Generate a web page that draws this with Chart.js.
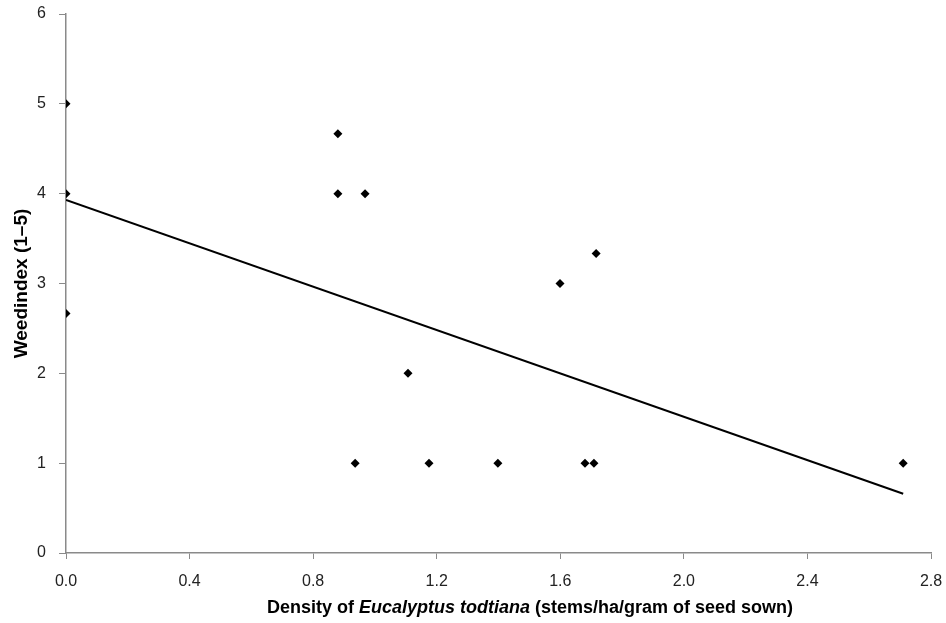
<!DOCTYPE html>
<html>
<head>
<meta charset="utf-8">
<script src="https://cdn.jsdelivr.net/npm/chart.js@4.4.1/dist/chart.umd.min.js"></script>
<style>
html,body{margin:0;padding:0;background:#fff;}
#wrap{width:946px;height:623px;}
</style>
</head>
<body>
<div id="wrap"><canvas id="c" width="946" height="623"></canvas></div>
<script>
// Observed data: density (stems/ha/gram of seed sown) vs weed index
const densityX = [0, 0, 0, 0.88, 0.88, 0.968, 1.107, 0.936, 1.175, 1.398, 1.68, 1.709, 1.599, 1.716, 2.71];
const weedIndexY = [5, 4, 2.667, 4.667, 4, 4, 2, 1, 1, 1, 1, 1, 3, 3.333, 1];
// Fitted trend line endpoints
const trendX = [0, 2.71];
const trendY = [3.93, 0.66];
// Axis ticks
const xTicks = [0.0, 0.4, 0.8, 1.2, 1.6, 2.0, 2.4, 2.8];
const yTicks = [0, 1, 2, 3, 4, 5, 6];

const xTitleParts = [
  {text: 'Density of ', italic: false},
  {text: 'Eucalyptus todtiana', italic: true},
  {text: ' (stems/ha/gram of seed sown)', italic: false}
];

const FONT = '"Liberation Sans", Arial, sans-serif';
const AXIS_COLOR = '#8a8a8a';

const xTitlePlugin = {
  id: 'xTitle',
  afterDraw(chart) {
    const ctx = chart.ctx;
    ctx.save();
    ctx.fillStyle = '#000';
    ctx.textBaseline = 'middle';
    const size = 18;
    const fonts = xTitleParts.map(p => (p.italic ? 'italic ' : '') + 'bold ' + size + 'px ' + FONT);
    let total = 0;
    const widths = xTitleParts.map((p, i) => { ctx.font = fonts[i]; const w = ctx.measureText(p.text).width; total += w; return w; });
    let x = 530 - total / 2;
    const y = 608;
    xTitleParts.forEach((p, i) => {
      ctx.font = fonts[i];
      ctx.textAlign = 'left';
      ctx.fillText(p.text, x, y);
      x += widths[i];
    });
    ctx.restore();
  }
};

const points = densityX.map((x, i) => ({x: x, y: weedIndexY[i]}));
const trend = trendX.map((x, i) => ({x: x, y: trendY[i]}));

new Chart(document.getElementById('c'), {
  type: 'scatter',
  data: {
    datasets: [
      {
        label: 'Observed',
        data: points,
        pointStyle: 'rectRot',
        pointRadius: 4.5,
        backgroundColor: '#000',
        borderColor: '#000',
        borderWidth: 0
      },
      {
        label: 'Trend',
        type: 'line',
        data: trend,
        showLine: true,
        pointRadius: 0,
        borderColor: '#000',
        borderWidth: 2,
        fill: false
      }
    ]
  },
  options: {
    responsive: false,
    animation: false,
    layout: {padding: {top: 14, right: 15, left: 0, bottom: 0}},
    plugins: {legend: {display: false}, tooltip: {enabled: false}},
    scales: {
      x: {
        type: 'linear',
        min: 0, max: 2.8,
        afterBuildTicks(scale) { scale.ticks = xTicks.map(v => ({value: v})); },
        afterFit(scale) { scale.height = 70; scale.paddingLeft = 0; scale.paddingRight = 0; },
        ticks: {
          callback: v => Number(v).toFixed(1),
          color: '#222',
          font: {family: FONT, size: 16},
          padding: 13,
          maxRotation: 0
        },
        grid: {drawOnChartArea: false, drawTicks: true, tickLength: 6, color: AXIS_COLOR},
        border: {color: AXIS_COLOR, width: 1.5}
      },
      y: {
        type: 'linear',
        min: 0, max: 6,
        afterBuildTicks(scale) { scale.ticks = yTicks.map(v => ({value: v})); },
        afterFit(scale) { scale.width = 66; scale.paddingTop = 0; scale.paddingBottom = 0; },
        ticks: {
          color: '#222',
          font: {family: FONT, size: 16},
          padding: 13
        },
        grid: {drawOnChartArea: false, drawTicks: true, tickLength: 7, color: AXIS_COLOR},
        border: {color: AXIS_COLOR, width: 1.5},
        title: {
          display: true,
          text: 'Weedindex (1–5)',
          color: '#000',
          font: {family: FONT, size: 19, weight: 'bold'},
          padding: {top: 10, bottom: 0}
        }
      }
    }
  },
  plugins: [xTitlePlugin]
});
</script>
</body>
</html>
